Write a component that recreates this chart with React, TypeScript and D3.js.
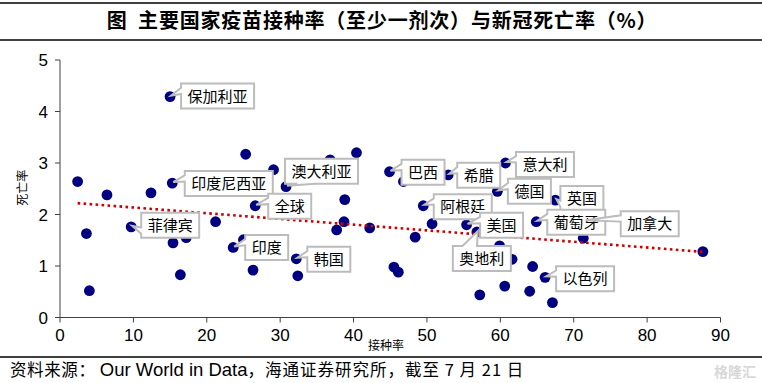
import React from "react";
import * as d3 from "d3";

// ---- data ----
const vaccinationRate = [
  15.0, 25.3, 2.4, 6.4, 12.4, 15.3, 3.6, 4.0, 9.7, 15.4, 17.2, 16.4, 21.2, 23.6, 25.0, 26.3,
  26.6, 29.1, 30.8, 32.2, 32.4, 36.8, 40.4, 38.8, 38.7, 37.7, 42.2, 44.9, 46.8, 45.5, 46.1,
  49.5, 50.7, 48.4, 52.9, 55.4, 56.8, 59.9, 61.6, 59.6, 60.7, 67.5, 64.9, 71.5, 71.3, 64.4,
  66.1, 60.6, 57.2, 64.0, 67.1, 87.6,
];
const deathRate = [
  4.29, 3.17, 2.64, 2.38, 2.42, 2.61, 1.63, 0.52, 1.76, 1.45, 1.55, 0.83, 1.86, 1.36, 1.51, 0.92,
  2.17, 2.87, 2.54, 1.14, 0.81, 3.06, 3.2, 2.29, 1.86, 1.70, 1.74, 2.83, 2.64, 0.98, 0.88,
  2.17, 1.82, 1.56, 2.77, 1.80, 1.66, 1.39, 1.13, 2.45, 3.0, 2.28, 1.86, 1.87, 1.54, 0.99,
  0.78, 0.61, 0.44, 0.51, 0.29, 1.28,
];
const countryLabel = [
  "保加利亚", "", "", "", "", "印度尼西亚", "", "", "菲律宾", "", "", "", "", "印度", "", "",
  "全球", "", "澳大利亚", "韩国", "", "", "", "", "", "", "", "巴西", "", "", "",
  "阿根廷", "", "", "希腊", "美国", "奥地利", "", "", "德国", "意大利", "英国", "葡萄牙", "加拿大", "", "",
  "以色列", "", "", "", "", "",
];
// linear trend line (as drawn in the reference): death = a + b * vaccination
const trendIntercept = [2.247];
const trendSlope = [-0.0111];
const xTickValues = [0, 10, 20, 30, 40, 50, 60, 70, 80, 90];
const yTickValues = [0, 1, 2, 3, 4, 5];

const titleText = "图  主要国家疫苗接种率（至少一剂次）与新冠死亡率（%）";
const xAxisTitle = "接种率";
const yAxisTitle = "死亡率";
const sourcePrefix = "资料来源： ";
const sourceName = "Our World in Data";
const sourceSuffix = "，海通证券研究所，截至 7 月 21 日";

// ---- layout ----
const W = 762;
const H = 383;
const plot = { left: 60, right: 720.5, top: 60, bottom: 317.5 };
// callout box offsets (pixels, box top-left relative to the point)
const calloutOffset: Record<string, [number, number]> = {
  保加利亚: [11, -13],
  印度尼西亚: [12.5, -12],
  澳大利亚: [-1, -28],
  全球: [13, -12],
  菲律宾: [10, -14],
  印度: [12, -12.5],
  韩国: [11, -12],
  巴西: [12, -12],
  希腊: [9, -12],
  意大利: [10.5, -11],
  德国: [10.5, -12.5],
  英国: [5, -14],
  阿根廷: [10.5, -11.5],
  美国: [13.5, -12],
  奥地利: [-24, 14],
  葡萄牙: [11, -12],
  加拿大: [36, -10],
  以色列: [11, -11],
};

const CJK = "'Noto Sans CJK SC', 'Noto Sans', sans-serif";
const LATIN = "'Liberation Sans Narrow', 'Liberation Sans', Arial, sans-serif";

function calloutPath(l: number, t: number, w: number, h: number, tx: number, ty: number) {
  const r = l + w;
  const b = t + h;
  const hc = l + w / 2;
  const vc = t + h / 2;
  const dx = tx - hc;
  const dy = ty - vc;
  const dq = (dx * h) / w;
  const dz = Math.abs(dy) - Math.abs(dq);
  const x1 = l + (w * (dx > 0 ? 7 : 2)) / 12;
  const x2 = l + (w * (dx > 0 ? 10 : 5)) / 12;
  const y1 = t + (h * (dy > 0 ? 7 : 2)) / 12;
  const y2 = t + (h * (dy > 0 ? 10 : 5)) / 12;
  const p = d3.path();
  if (dz > 0) {
    if (dy < 0) {
      p.moveTo(l, t); p.lineTo(x1, t); p.lineTo(tx, ty); p.lineTo(x2, t);
      p.lineTo(r, t); p.lineTo(r, b); p.lineTo(l, b); p.closePath();
    } else {
      p.moveTo(l, t); p.lineTo(r, t); p.lineTo(r, b); p.lineTo(x2, b);
      p.lineTo(tx, ty); p.lineTo(x1, b); p.lineTo(l, b); p.closePath();
    }
  } else if (dx < 0) {
    p.moveTo(l, t); p.lineTo(r, t); p.lineTo(r, b); p.lineTo(l, b);
    p.lineTo(l, y2); p.lineTo(tx, ty); p.lineTo(l, y1); p.closePath();
  } else {
    p.moveTo(l, t); p.lineTo(r, t); p.lineTo(r, y1); p.lineTo(tx, ty);
    p.lineTo(r, y2); p.lineTo(r, b); p.lineTo(l, b); p.closePath();
  }
  return p.toString();
}

export default function App() {
  const x = d3.scaleLinear().domain([0, 90]).range([plot.left, plot.right]);
  const y = d3.scaleLinear().domain([0, 5]).range([plot.bottom, plot.top]);

  const points = vaccinationRate.map((v, i) => ({ v, d: deathRate[i], name: countryLabel[i] }));
  const xMin = d3.min(vaccinationRate) as number;
  const xMax = d3.max(vaccinationRate) as number;
  const trend = d3
    .line<number>()
    .x((v) => x(v))
    .y((v) => y(trendIntercept[0] + trendSlope[0] * v))([xMin, xMax]);

  const boxH = 25;
  const charW = 15;

  return (
    <svg
      width={W}
      height={H}
      viewBox={`0 0 ${W} ${H}`}
      style={{ position: "absolute", left: 0, top: 0, background: "#fff" }}
    >
      <rect x={0} y={0} width={W} height={H} fill="#fff" />
      {/* title */}
      <line x1={0} x2={W} y1={3} y2={3} stroke="#000" strokeWidth={1.5} />
      <text
        x={382}
        y={28}
        textAnchor="middle"
        fontFamily={CJK}
        fontSize={20}
        fontWeight={700}
        letterSpacing={0.8}
        fill="#000"
        style={{ whiteSpace: "pre" }}
      >
        {titleText}
      </text>
      <line x1={0} x2={W} y1={40} y2={40} stroke="#000" strokeWidth={1.5} />

      {/* axes */}
      <g stroke="#404040" strokeWidth={1}>
        <line x1={plot.left} x2={plot.left} y1={plot.top} y2={plot.bottom} />
        <line x1={plot.left} x2={plot.right} y1={plot.bottom} y2={plot.bottom} />
        {yTickValues.map((t) => (
          <line key={"yt" + t} x1={plot.left - 5} x2={plot.left} y1={y(t)} y2={y(t)} />
        ))}
        {xTickValues.map((t) => (
          <line key={"xt" + t} x1={x(t)} x2={x(t)} y1={plot.bottom} y2={plot.bottom + 5} />
        ))}
      </g>
      {yTickValues.map((t) => (
        <text
          key={"yl" + t}
          x={plot.left - 12}
          y={y(t) + 6}
          textAnchor="end"
          fontFamily={LATIN}
          fontSize={17}
          fill="#000"
        >
          {t}
        </text>
      ))}
      {xTickValues.map((t) => (
        <text
          key={"xl" + t}
          x={x(t)}
          y={plot.bottom + 23}
          textAnchor="middle"
          fontFamily={LATIN}
          fontSize={17}
          fill="#000"
        >
          {t}
        </text>
      ))}
      <text x={386} y={350} textAnchor="middle" fontFamily={CJK} fontSize={12} fill="#000">
        {xAxisTitle}
      </text>
      <text
        transform={`translate(27,${(plot.top + plot.bottom) / 2 - 1}) rotate(-90)`}
        textAnchor="middle"
        fontFamily={CJK}
        fontSize={12}
        fill="#000"
      >
        {yAxisTitle}
      </text>

      {/* points */}
      {points.map((p, i) => (
        <circle key={"pt" + i} cx={x(p.v)} cy={y(p.d)} r={5.4} fill="#000080" />
      ))}

      {/* trend line */}
      <path
        d={trend ?? ""}
        fill="none"
        stroke="#d00000"
        strokeWidth={2.6}
        strokeDasharray="2.6 3.4"
      />

      {/* callouts */}
      {points
        .filter((p) => p.name)
        .map((p) => {
          const px = x(p.v);
          const py = y(p.d);
          const off = calloutOffset[p.name] ?? [10, -12];
          const w = p.name.length * charW + 13;
          const l = px + off[0];
          const t = py + off[1];
          return (
            <g key={"co" + p.name}>
              <path
                d={calloutPath(l, t, w, boxH, px + 1, py - 1)}
                fill="#fff"
                stroke="#bcbcbc"
                strokeWidth={2}
                strokeLinejoin="miter"
              />
              <text x={l + 6.5} y={t + 18} fontFamily={CJK} fontSize={15} fill="#000">
                {p.name}
              </text>
            </g>
          );
        })}

      {/* footer */}
      <line x1={0} x2={W} y1={357} y2={357} stroke="#000" strokeWidth={1.5} />
      <text x={10} y={376} fontFamily={CJK} fontSize={16.5} fill="#000" style={{ whiteSpace: "pre" }}>
        <tspan letterSpacing={0.6}>{sourcePrefix}</tspan>
        <tspan fontFamily={LATIN} fontSize={18.5}>{sourceName}</tspan>
        <tspan letterSpacing={1}>{sourceSuffix}</tspan>
      </text>
      <text x={756} y={377} textAnchor="end" fontFamily={CJK} fontSize={14} fontWeight={700} fill="#d8d8d8">
        格隆汇
      </text>
    </svg>
  );
}
